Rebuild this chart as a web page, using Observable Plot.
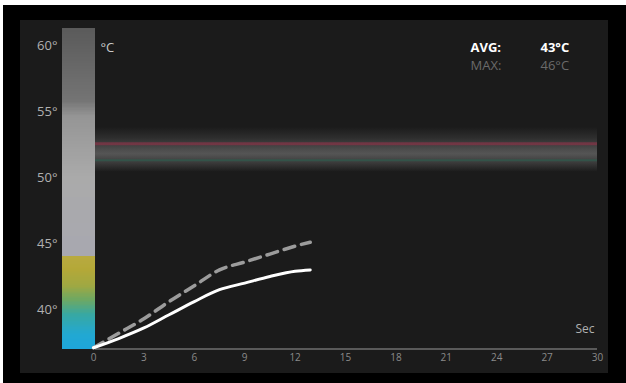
<!DOCTYPE html>
<html>
<head>
<meta charset="utf-8">
<script src="https://cdn.jsdelivr.net/npm/d3@7"></script>
<script src="https://cdn.jsdelivr.net/npm/@observablehq/plot@0.6"></script>
<style>
  html, body { margin: 0; padding: 0; background: #fff; }
  #frame { position: absolute; left: 3px; top: 5px; width: 623px; height: 378px; background: #000; }
  #chart { position: absolute; left: 17px; top: 15px; }
  #chart svg { display: block; }
</style>
</head>
<body>
<div id="frame"><div id="chart"></div></div>
<script>
// ---- data ----
const seconds = [0, 1.5, 3, 4.5, 6, 7.5, 9, 10.5, 12, 12.9];
const avgTemp = [37.1, 37.8, 38.6, 39.6, 40.6, 41.5, 42.0, 42.5, 42.9, 43.0];
const maxTemp = [37.1, 38.2, 39.3, 40.6, 41.8, 43.0, 43.6, 44.2, 44.8, 45.1];
const xTicks = [0, 3, 6, 9, 12, 15, 18, 21, 24, 27, 30];
const yTicks = [40, 45, 50, 55, 60];
const scaleMin = 37, scaleMax = 61.3;
const stopTemps  = [37, 38.1, 39.6, 40.7, 41.8, 43.0, 43.95, 44.05, 50, 54.6, 55.8, 60, 61.3];
const stopColors = ["#1ea6da", "#22a8d2", "#38a8a2", "#6ea862", "#a0a842", "#b4a838", "#b8aa40",
                    "#a8a8b0", "#aaaaaa", "#959595", "#747474", "#606060", "#5a5a5a"];
const bandLow = 50.4, bandHigh = 53.8;
const limitTemp = 52.55, lowerTemp = 51.3;
const avgLabel = "AVG:", avgValue = "43°C";
const maxLabel = "MAX:", maxValue = "46°C";
const unitLabel = "°C", timeLabel = "Sec";

const pts = seconds.map((t, i) => ({t, avg: avgTemp[i], max: maxTemp[i]}));
const bins = d3.range(scaleMin, scaleMax, 0.1);
const barX1 = -1.85, barX2 = 0.12;

const chart = Plot.plot({
  width: 588, height: 353,
  marginLeft: 73, marginRight: 11, marginTop: 8, marginBottom: 24,
  style: {background: "#1b1b1b", color: "#aaa", fontFamily: "'Open Sans', sans-serif"},
  x: {domain: [0, 30], range: [73, 577]},
  y: {domain: [40, 60], range: [289, 25]},
  color: {type: "linear", domain: stopTemps, range: stopColors, interpolate: "rgb"},
  marks: [
    // threshold band
    Plot.rect([0], {x1: barX2, x2: 30, y1: bandLow, y2: bandHigh, fill: "url(#bandGrad)"}),
    Plot.ruleY([limitTemp], {x1: barX2, x2: 30, stroke: "#7e3446", strokeWidth: 3, strokeOpacity: 0.8}),
    Plot.ruleY([lowerTemp], {x1: barX2, x2: 30, stroke: "#2f5a4c", strokeWidth: 2, strokeOpacity: 0.75}),
    // colour bar
    Plot.rect(bins, {x1: barX1, x2: barX2, y1: d => d, y2: d => Math.min(d + 0.15, scaleMax), fill: d => d + 0.05, shapeRendering: "crispEdges"}),
    // baseline
    Plot.ruleY([scaleMin], {x1: barX2, x2: 30, stroke: "#5a5a5a", strokeWidth: 2}),
    Plot.axisY({ticks: yTicks, tickSize: 0, tickPadding: 36, tickFormat: d => d + "°", fill: "#b0b0b0", fontSize: 13, label: null}),
    Plot.axisX({ticks: xTicks, tickSize: 0, tickPadding: 4, fill: "#8a8a8a", fontSize: 10, label: null}),
    // series
    Plot.line(pts, {x: "t", y: "max", stroke: "#9c9c9c", strokeWidth: 3.5, strokeDasharray: "11,7", curve: "monotone-x"}),
    Plot.line(pts, {x: "t", y: "avg", stroke: "#ffffff", strokeWidth: 3, curve: "monotone-x"}),
    // labels
    Plot.text([unitLabel], {frameAnchor: "top-left", dx: 7, dy: 14, textAnchor: "start", fill: "#c8c8c8", fontSize: 13}),
    Plot.text([avgLabel], {frameAnchor: "top-left", dx: 377, dy: 14, textAnchor: "start", fill: "#ffffff", fontSize: 13, fontWeight: "bold"}),
    Plot.text([avgValue], {frameAnchor: "top-left", dx: 447, dy: 14, textAnchor: "start", fill: "#ffffff", fontSize: 13, fontWeight: "bold"}),
    Plot.text([maxLabel], {frameAnchor: "top-left", dx: 377, dy: 32, textAnchor: "start", fill: "#6a6a6a", fontSize: 13}),
    Plot.text([maxValue], {frameAnchor: "top-left", dx: 447, dy: 32, textAnchor: "start", fill: "#6a6a6a", fontSize: 13}),
    Plot.text([timeLabel], {frameAnchor: "bottom-right", dx: -3, dy: -17, textAnchor: "end", fill: "#b0b0b0", fontSize: 12})
  ]
});

// vertical gradient for the threshold band
const ns = "http://www.w3.org/2000/svg";
const defs = document.createElementNS(ns, "defs");
const grad = document.createElementNS(ns, "linearGradient");
grad.setAttribute("id", "bandGrad");
grad.setAttribute("x1", "0"); grad.setAttribute("y1", "0");
grad.setAttribute("x2", "0"); grad.setAttribute("y2", "1");
[[0, "#1b1b1b"], [0.25, "#2e2e2e"], [0.5, "#4c4c4c"], [0.6, "#555555"], [0.8, "#3a3a3a"], [1, "#1b1b1b"]].forEach(([o, c]) => {
  const s = document.createElementNS(ns, "stop");
  s.setAttribute("offset", o); s.setAttribute("stop-color", c);
  grad.appendChild(s);
});
defs.appendChild(grad);
chart.insertBefore(defs, chart.firstChild);

document.getElementById("chart").appendChild(chart);
</script>
</body>
</html>
